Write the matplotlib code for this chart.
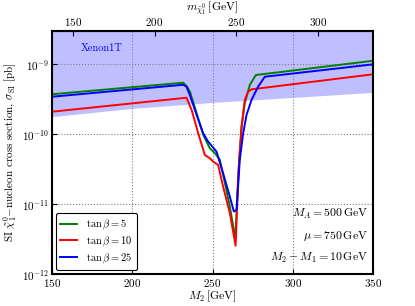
import numpy as np
import matplotlib
matplotlib.use("Agg")
import matplotlib.pyplot as plt

plt.rcParams['font.family'] = 'serif'
plt.rcParams['font.serif'] = ['cmr10']
plt.rcParams['mathtext.fontset'] = 'cm'
plt.rcParams['axes.formatter.use_mathtext'] = True
plt.rcParams['axes.unicode_minus'] = False

# Xenon1T limit
xe_m2 = [150, 200, 250, 300, 350]
xe_lim = [1.75e-10, 2.3e-10, 2.8e-10, 3.3e-10, 3.9e-10]

# tan beta = 5
g_m2 = [150, 231.7, 233.8, 235.9, 240.1, 244.2, 248.3, 251.5, 254.6, 257.7, 260.8,
        264.2, 266.6, 268.1, 270.1, 273.2, 277.0, 350]
g_sig = [3.73e-10, 5.46e-10, 4.9e-10, 4.1e-10, 2.0e-10, 9.8e-11, 6.3e-11, 5.35e-11, 4.3e-11,
         2.0e-11, 9.25e-12, 3.2e-12, 4.3e-11, 1.28e-10, 2.77e-10, 5.06e-10, 7.03e-10, 1.125e-9]

# tan beta = 10
r_m2 = [150, 233.8, 237.0, 241.1, 245.2, 248.3, 250.4, 253.5, 256.6, 260.8, 264.4,
        266.0, 268.1, 270.1, 272.2, 274.3, 350]
r_sig = [2.1e-10, 3.33e-10, 2.22e-10, 1.03e-10, 5.06e-11, 4.54e-11, 4.06e-11, 3.64e-11,
         1.78e-11, 7.43e-12, 2.54e-12, 2.48e-11, 1.28e-10, 3.09e-10, 4.06e-10, 4.39e-10, 7.2e-10]

# tan beta = 25
b_m2 = [150, 231.7, 233.8, 235.9, 240.1, 244.2, 247.3, 252.5, 256.6, 260.8, 263.3, 265.0,
        267.0, 269.1, 271.2, 274.3, 278.4, 282.6, 350]
b_sig = [3.44e-10, 5.1e-10, 4.8e-10, 3.64e-10, 1.89e-10, 1.03e-10, 7.83e-11, 5.64e-11,
         2.77e-11, 1.28e-11, 7.83e-12, 8.3e-12, 4.3e-11, 1.03e-10, 1.89e-10, 3.09e-10,
         4.79e-10, 6.65e-10, 1e-9]

fig = plt.figure(figsize=(4.15, 3.06), dpi=100)
ax = fig.add_axes([0.1253, 0.1046, 0.7735, 0.7941])

ax.fill_between(xe_m2, xe_lim, 1, color='blue', alpha=0.25, lw=0)
ax.text(181, 1.71e-9, 'Xenon1T', color='blue', fontsize=7.5, ha='center', va='center')

ax.plot(g_m2, g_sig, color='green', lw=1.4, label=r'$\tan\beta = 5$')
ax.plot(r_m2, r_sig, color='red', lw=1.4, label=r'$\tan\beta = 10$')
ax.plot(b_m2, b_sig, color='blue', lw=1.4, label=r'$\tan\beta = 25$')

ax.set_yscale('log')
ax.set_xlim(150, 350)
ax.set_ylim(1e-12, 3e-9)
ax.set_xticks([150, 200, 250, 300, 350])
ax.grid(True, color='gray', ls=':', lw=0.8)
ax.tick_params(direction='in', labelsize=8, which='both', pad=2)
ax.tick_params(which='minor', length=0)
for s in ax.spines.values():
    s.set_linewidth(1.5)

ax.set_xlabel(r'$M_2\,[\mathrm{GeV}]$', fontsize=8.5, labelpad=0)
ax.set_ylabel(r'SI $\tilde{\chi}_1^0$$-$nucleon cross section, $\sigma_{\mathrm{SI}}$ [pb]',
              fontsize=8, labelpad=2)

sec = ax.secondary_xaxis('top', functions=(lambda m: 0.9836 * m - 10.4,
                                           lambda m: (m + 10.4) / 0.9836))
sec.set_xticks([150, 200, 250, 300])
sec.tick_params(direction='in', labelsize=8, pad=2)
sec.set_xlabel(r'$m_{\tilde{\chi}_1^0}\,[\mathrm{GeV}]$', fontsize=8.5, labelpad=3.5)

ax.text(0.985, 0.245, r'$M_A = 500\,\mathrm{GeV}$', transform=ax.transAxes,
        ha='right', va='center', fontsize=8.5)
ax.text(0.985, 0.155, r'$\mu = 750\,\mathrm{GeV}$', transform=ax.transAxes,
        ha='right', va='center', fontsize=8.5)
ax.text(0.985, 0.065, r'$M_2 - M_1 = 10\,\mathrm{GeV}$', transform=ax.transAxes,
        ha='right', va='center', fontsize=8.5)

leg = ax.legend(loc='lower left', fontsize=7.5, fancybox=True, framealpha=1,
                edgecolor='black', handlelength=1.6, borderpad=0.4, labelspacing=0.25,
                handletextpad=0.9, borderaxespad=0.4)
leg.get_frame().set_linewidth(0.8)

fig.savefig('out.png', dpi=100)
